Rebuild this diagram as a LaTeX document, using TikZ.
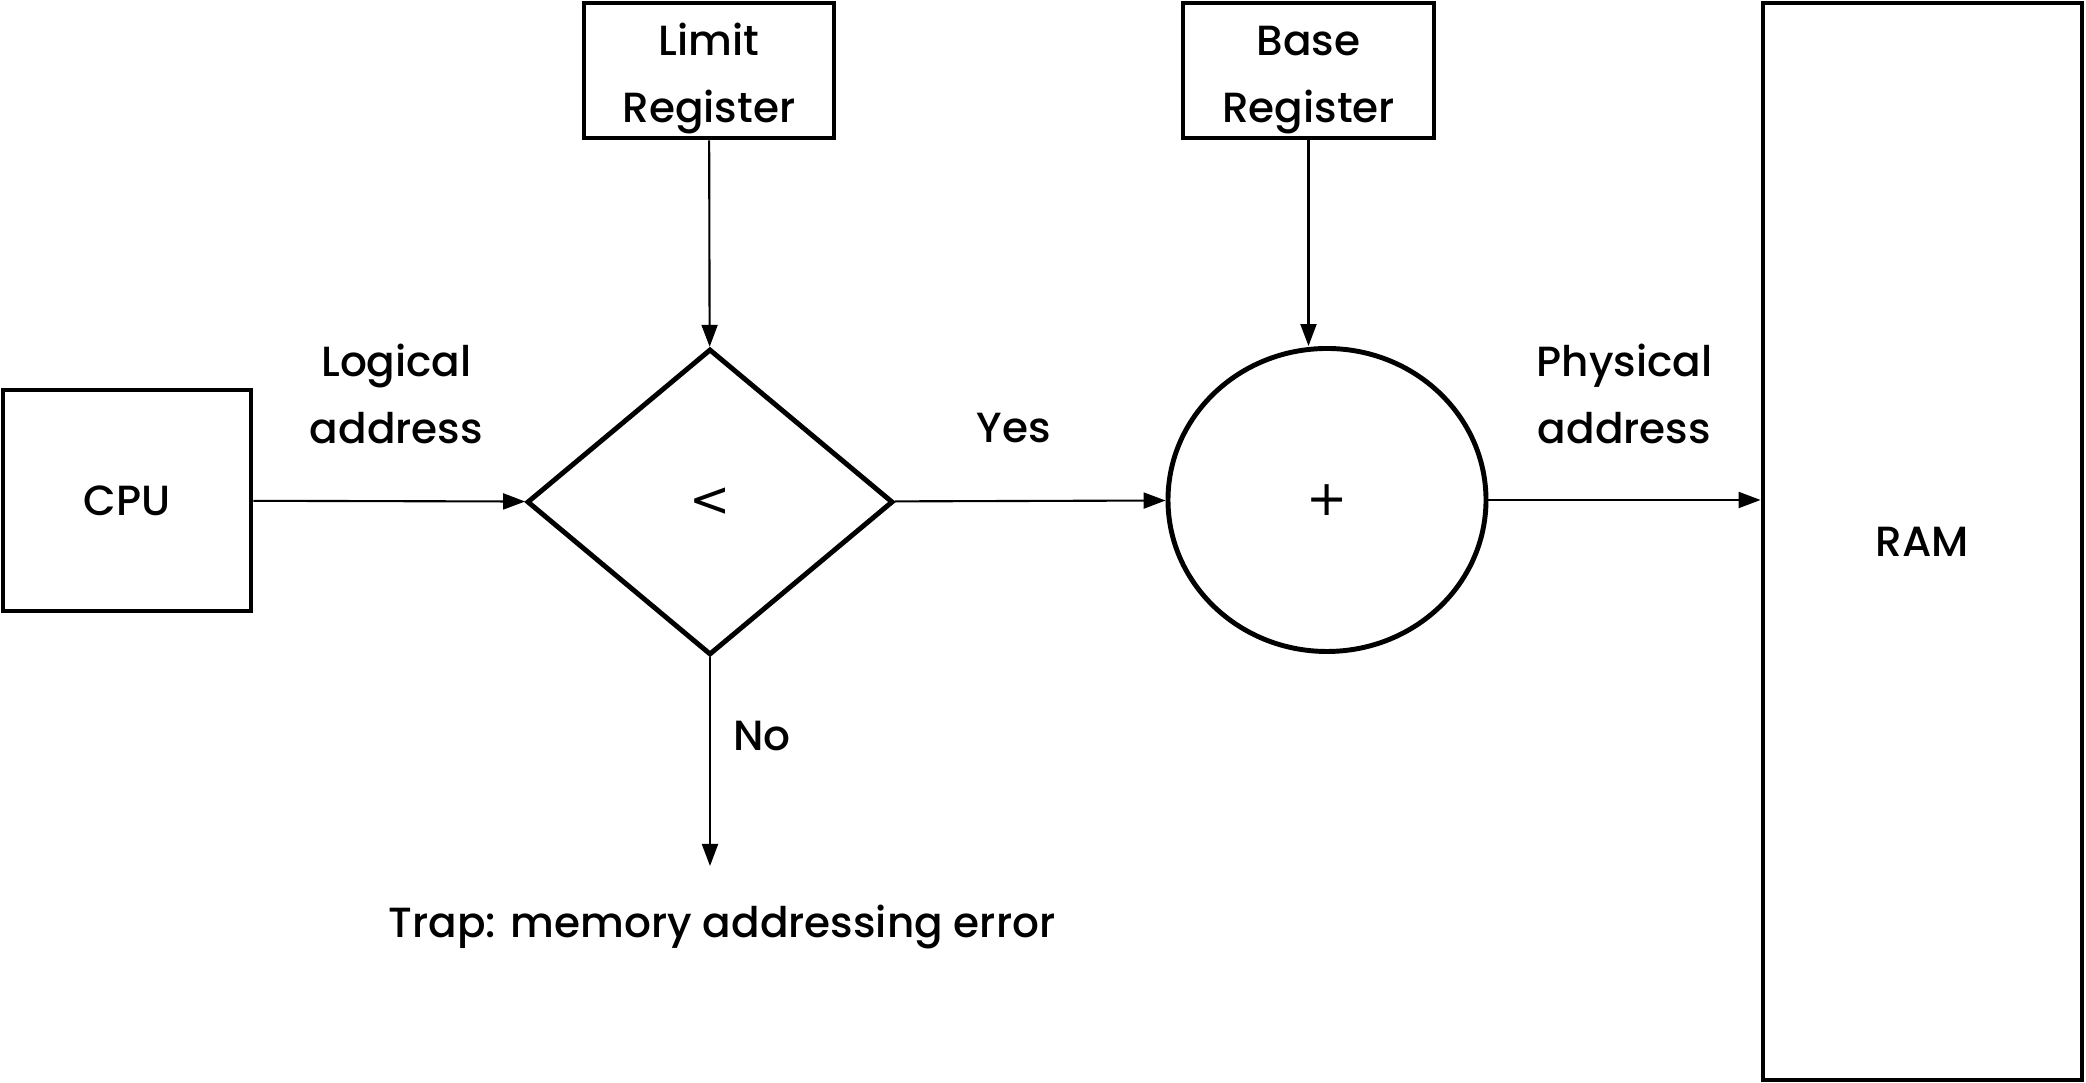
\documentclass[tikz,border=0pt]{standalone}
\usepackage{fontspec}
\setmainfont{Poppins}[UprightFont=* Medium]
\newfontfamily\symfont{DejaVu Sans}
\usetikzlibrary{shapes.geometric,arrows.meta}

\begin{document}
\begin{tikzpicture}[every node/.style={font=\fontsize{12}{19}\selectfont, align=center},
                    box/.style={draw, line width=1.4pt, inner sep=0pt},
                    link/.style={-{Triangle[length=2.2mm,width=1.6mm]}, line width=0.6pt}]
                    \useasboundingbox (0,0) rectangle (20.86,10.83);

                    \node[box, minimum width=2.48cm, minimum height=2.21cm] (cpu) at (1.27,5.825) {CPU};
                    \node[box, minimum width=2.50cm, minimum height=1.35cm] (limit) at (7.09,10.125) {\raisebox{-1.6mm}[0pt][0pt]{\begin{tabular}{@{}c@{}}Limit\\Register\end{tabular}}};
                    \node[box, minimum width=2.51cm, minimum height=1.35cm] (base) at (13.085,10.125) {\raisebox{-1.6mm}[0pt][0pt]{\begin{tabular}{@{}c@{}}Base\\Register\end{tabular}}};
                    \node[box, minimum width=3.19cm, minimum height=10.77cm] (ram) at (19.225,5.415) {RAM};
                    \node[box, diamond, minimum width=3.66cm, minimum height=3.06cm] (cmp) at (7.10,5.81) {\symfont\fontsize{14}{14}\selectfont <};
                    \node[box, ellipse, minimum width=3.18cm, minimum height=3.03cm] (add) at (13.27,5.83) {\symfont\fontsize{14}{14}\selectfont +};
                    \coordinate (trapend) at (7.10,2.17);

                    \node (trap) at (7.22,1.56) {Trap: memory addressing error};
                    \node (logical) at (3.965,6.89) {Logical\\address};
                    \node (yes) at (10.14,6.55) {Yes};
                    \node (physical) at (16.245,6.89) {Physical\\address};
                    \node (no) at (7.62,3.47) {No};

                    \draw[link] (cpu) -- (cmp);
                    \draw[link] (cmp) -- (add);
                    \draw[link] (add) -- (add -| ram.west);
                    \draw[link] (limit) -- (cmp);
                    \draw[link] (base.south) -- (base.south |- add.north);
                    \draw[link] (cmp) -- (trapend);
                \end{tikzpicture}
\end{document}
